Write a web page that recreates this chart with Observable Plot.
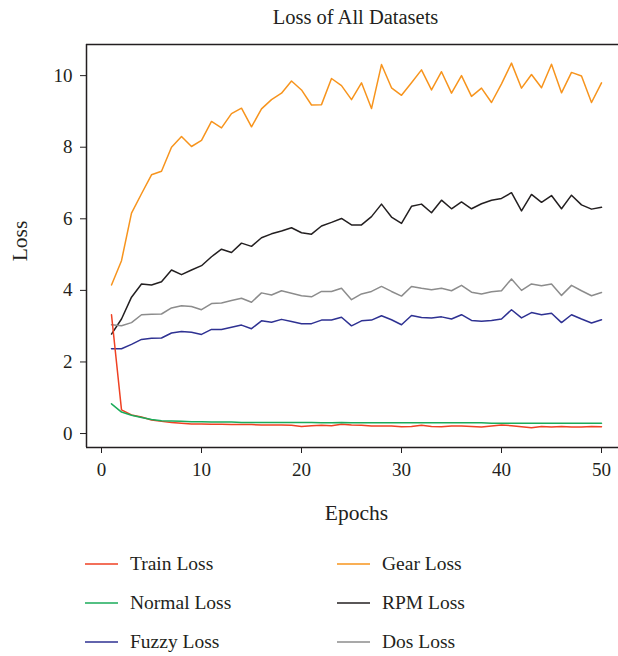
<!DOCTYPE html>
<html>
<head>
<meta charset="utf-8">
<script src="https://cdn.jsdelivr.net/npm/d3@7"></script>
<script src="https://cdn.jsdelivr.net/npm/@observablehq/plot@0.6"></script>
<style>
  html, body { margin: 0; padding: 0; background: #fff; }
  body { width: 618px; height: 656px; overflow: hidden; font-family: "Liberation Serif", serif; color: #231f20; }
  #legend { display: grid; grid-template-columns: 252px 252px; padding-left: 85px; padding-top: 9px; }
  .item { display: flex; align-items: center; height: 39px; font-size: 19.5px; }
  .item svg { margin-right: 12px; display: block; }
</style>
</head>
<body>
<div id="chart"></div>
<div id="legend"></div>
<script>
const epochs = d3.range(1, 51);
const seriesNames = ["Train Loss", "Normal Loss", "Fuzzy Loss", "Gear Loss", "RPM Loss", "Dos Loss"];
const seriesColors = ["#ef4123", "#1aab5a", "#2e3192", "#f7941d", "#231f20", "#8c8c8c"];

const trainLoss = [3.32,0.66,0.52,0.46,0.38,0.34,0.31,0.29,0.27,0.27,0.26,0.26,0.25,0.25,0.25,0.24,0.24,0.24,0.23,0.20,0.22,0.23,0.22,0.26,0.24,0.23,0.21,0.21,0.21,0.19,0.20,0.23,0.20,0.19,0.21,0.21,0.20,0.18,0.21,0.24,0.22,0.19,0.16,0.20,0.18,0.20,0.18,0.18,0.20,0.19];
const normalLoss = [0.83,0.60,0.51,0.45,0.39,0.36,0.35,0.34,0.33,0.33,0.32,0.32,0.32,0.31,0.31,0.31,0.31,0.31,0.31,0.31,0.31,0.30,0.30,0.31,0.30,0.30,0.30,0.30,0.30,0.30,0.30,0.30,0.30,0.30,0.30,0.30,0.30,0.30,0.29,0.29,0.29,0.29,0.29,0.29,0.29,0.29,0.29,0.29,0.29,0.29];
const fuzzyLoss = [2.37,2.37,2.49,2.63,2.66,2.67,2.81,2.85,2.83,2.77,2.91,2.91,2.97,3.03,2.93,3.15,3.11,3.19,3.13,3.07,3.07,3.17,3.17,3.25,3.01,3.15,3.17,3.29,3.18,3.04,3.30,3.24,3.23,3.26,3.20,3.32,3.16,3.14,3.16,3.20,3.46,3.23,3.38,3.32,3.36,3.10,3.32,3.20,3.09,3.18];
const gearLoss = [4.15,4.83,6.16,6.70,7.23,7.33,8.00,8.30,8.02,8.19,8.72,8.54,8.94,9.09,8.57,9.07,9.33,9.51,9.85,9.60,9.18,9.19,9.92,9.72,9.33,9.80,9.08,10.31,9.66,9.45,9.80,10.16,9.60,10.11,9.51,10.00,9.42,9.65,9.25,9.77,10.35,9.65,10.03,9.66,10.32,9.52,10.09,9.99,9.25,9.80];
const rpmLoss = [2.78,3.20,3.81,4.18,4.15,4.24,4.57,4.44,4.57,4.69,4.94,5.15,5.06,5.32,5.23,5.47,5.58,5.66,5.75,5.61,5.57,5.80,5.90,6.01,5.83,5.83,6.06,6.41,6.05,5.87,6.35,6.41,6.17,6.52,6.28,6.47,6.28,6.42,6.52,6.57,6.73,6.22,6.68,6.46,6.65,6.28,6.66,6.39,6.27,6.32];
const dosLoss = [3.04,3.01,3.10,3.32,3.33,3.34,3.51,3.57,3.55,3.46,3.63,3.65,3.72,3.78,3.67,3.93,3.87,3.99,3.92,3.85,3.82,3.97,3.97,4.06,3.74,3.90,3.97,4.11,3.97,3.84,4.11,4.06,4.02,4.06,3.99,4.14,3.95,3.90,3.96,3.99,4.32,4.00,4.18,4.13,4.18,3.86,4.14,3.99,3.85,3.94];
const xTicks = [0, 10, 20, 30, 40, 50];
const yTicks = [0, 2, 4, 6, 8, 10];

const allSeries = [trainLoss, normalLoss, fuzzyLoss, gearLoss, rpmLoss, dosLoss];
const drawOrder = [3, 4, 5, 2, 0, 1];
const rows = [];
for (const s of drawOrder) {
  allSeries[s].forEach((v, i) => rows.push({series: seriesNames[s], epoch: epochs[i], loss: v}));
}

const xDomain = [-1.5, 51.7];
const yDomain = [-0.39, 10.87];
const ink = "#231f20";

const chart = Plot.plot({
  width: 618,
  height: 535,
  marginLeft: 86,
  marginRight: 0,
  marginTop: 44,
  marginBottom: 88,
  style: {fontFamily: "Liberation Serif", fontSize: "19px", color: ink, background: "#fff"},
  x: {domain: xDomain},
  y: {domain: yDomain},
  color: {domain: seriesNames, range: seriesColors},
  marks: [
    Plot.axisX({ticks: xTicks, tickSize: 6, tickPadding: 9, label: null, stroke: ink, fill: ink}),
    Plot.axisY({ticks: yTicks, tickSize: 6, tickPadding: 8, label: null, stroke: ink, fill: ink}),
    Plot.ruleY([yDomain[0], yDomain[1]], {stroke: ink, strokeWidth: 1.5}),
    Plot.ruleX([xDomain[0]], {stroke: ink, strokeWidth: 1.5}),
    Plot.line(rows, {x: "epoch", y: "loss", z: "series", stroke: "series", strokeWidth: 1.5}),
    Plot.text(["Loss of All Datasets"], {frameAnchor: "top", dx: 3, dy: -21, lineAnchor: "bottom", fontSize: 20.5, fill: ink}),
    Plot.text(["Epochs"], {frameAnchor: "bottom", dx: 4, dy: 72, lineAnchor: "bottom", fontSize: 21.5, fill: ink}),
    Plot.text(["Loss"], {frameAnchor: "left", textAnchor: "middle", dx: -66, dy: -5, rotate: -90, fontSize: 21.5, fill: ink})
  ]
});
document.getElementById("chart").appendChild(chart);

const legend = document.getElementById("legend");
const legendOrder = [0, 3, 1, 4, 2, 5];
const svgNS = "http://www.w3.org/2000/svg";
for (const i of legendOrder) {
  const item = document.createElement("div");
  item.className = "item";
  const sw = document.createElementNS(svgNS, "svg");
  sw.setAttribute("width", "33");
  sw.setAttribute("height", "4");
  const ln = document.createElementNS(svgNS, "line");
  ln.setAttribute("x1", "0"); ln.setAttribute("x2", "33");
  ln.setAttribute("y1", "2"); ln.setAttribute("y2", "2");
  ln.setAttribute("stroke", seriesColors[i]);
  ln.setAttribute("stroke-width", "1.5");
  sw.appendChild(ln);
  const tx = document.createElement("span");
  tx.textContent = seriesNames[i];
  item.appendChild(sw);
  item.appendChild(tx);
  legend.appendChild(item);
}
</script>
</body>
</html>
